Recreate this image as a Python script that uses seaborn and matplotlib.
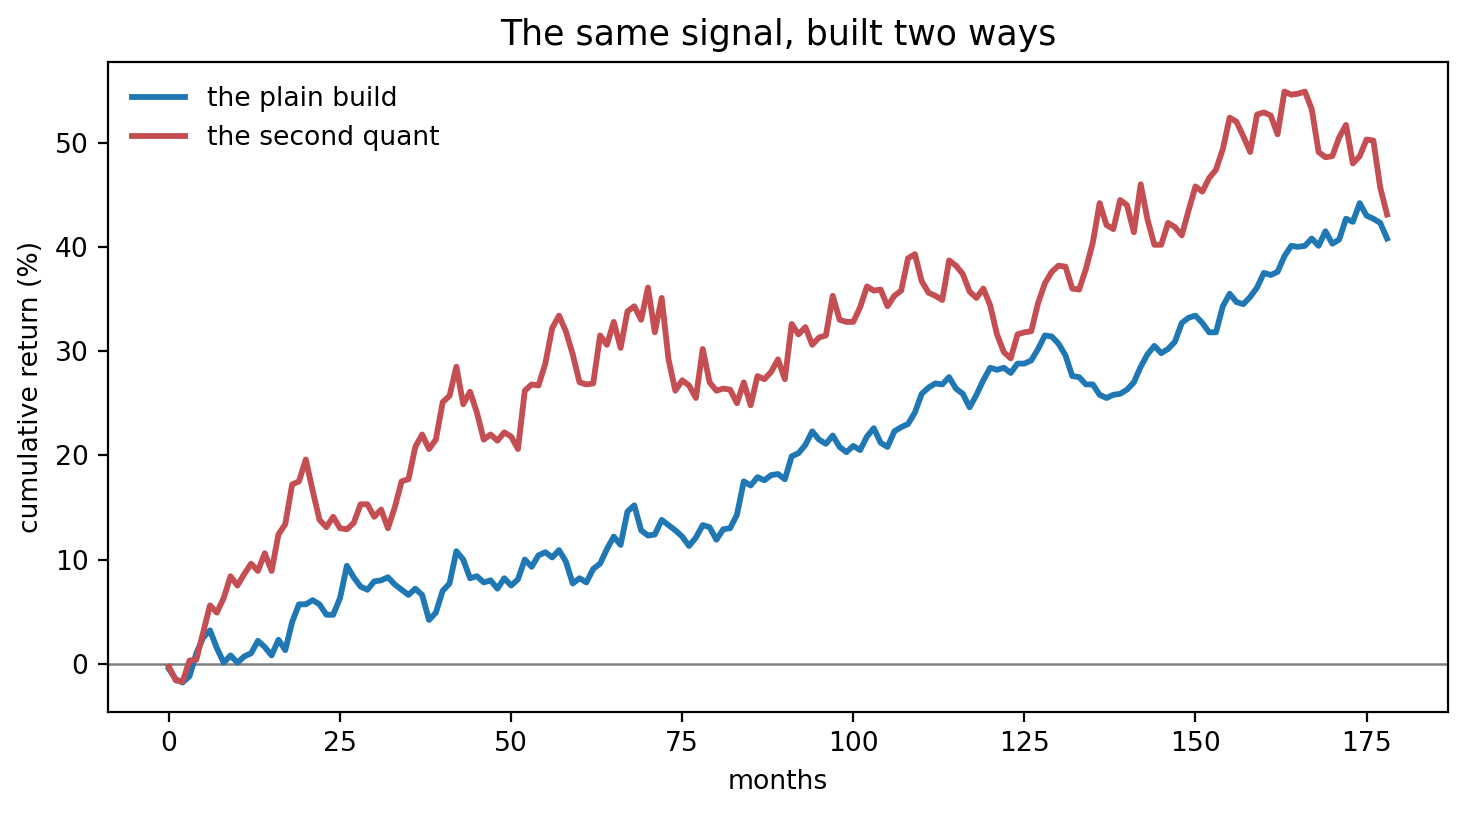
import numpy as np
import pandas as pd
import seaborn as sns
import matplotlib.pyplot as plt

# cumulative return (%), one value per month (0..178)
plain_build = [
    -0.5, -1.5, -1.8, -1.2, 1.0, 2.5, 3.2, 1.5, 0.1, 0.8,
    0.1, 0.7, 1.0, 2.2, 1.6, 0.8, 2.3, 1.3, 4.0, 5.7,
    5.7, 6.1, 5.7, 4.7, 4.7, 6.3, 9.4, 8.3, 7.4, 7.1,
    7.9, 8.0, 8.3, 7.6, 7.1, 6.6, 7.2, 6.6, 4.2, 4.9,
    7.0, 7.7, 10.8, 10.0, 8.2, 8.4, 7.8, 8.0, 7.2, 8.2,
    7.5, 8.1, 10.0, 9.3, 10.4, 10.7, 10.2, 10.9, 9.8, 7.7,
    8.2, 7.8, 9.1, 9.6, 11.0, 12.2, 11.4, 14.6, 15.2, 12.8,
    12.3, 12.4, 13.8, 13.3, 12.8, 12.2, 11.3, 12.1, 13.3, 13.1,
    11.9, 12.9, 13.0, 14.3, 17.5, 17.1, 17.9, 17.6, 18.1, 18.2,
    17.7, 19.9, 20.2, 21.0, 22.3, 21.5, 21.1, 21.9, 20.8, 20.3,
    20.9, 20.5, 21.8, 22.6, 21.2, 20.8, 22.3, 22.7, 23.0, 24.1,
    25.9, 26.5, 26.9, 26.8, 27.5, 26.4, 25.9, 24.6, 25.8, 27.2,
    28.4, 28.2, 28.4, 27.9, 28.8, 28.8, 29.1, 30.2, 31.5, 31.4,
    30.7, 29.6, 27.6, 27.5, 26.8, 26.8, 25.8, 25.5, 25.8, 25.9,
    26.3, 27.0, 28.5, 29.7, 30.5, 29.8, 30.2, 30.9, 32.7, 33.2,
    33.4, 32.7, 31.8, 31.8, 34.3, 35.5, 34.7, 34.5, 35.2, 36.1,
    37.5, 37.3, 37.6, 39.1, 40.1, 40.0, 40.1, 40.8, 40.1, 41.5,
    40.3, 40.7, 42.7, 42.4, 44.2, 43.0, 42.7, 42.3, 40.8,
]
second_quant = [
    -0.3, -1.6, -1.7, 0.3, 0.4, 3.0, 5.6, 4.9, 6.3, 8.4,
    7.5, 8.6, 9.6, 8.9, 10.6, 8.9, 12.4, 13.4, 17.2, 17.5,
    19.6, 16.6, 13.8, 13.1, 14.1, 13.0, 12.9, 13.5, 15.3, 15.3,
    14.1, 14.8, 13.0, 15.0, 17.5, 17.7, 20.8, 22.0, 20.6, 21.5,
    25.1, 25.7, 28.5, 24.9, 26.1, 24.1, 21.5, 22.0, 21.4, 22.2,
    21.8, 20.6, 26.2, 26.8, 26.7, 28.8, 32.2, 33.4, 31.9, 29.7,
    27.0, 26.8, 26.9, 31.5, 30.6, 32.8, 30.3, 33.8, 34.3, 33.0,
    36.1, 31.8, 35.1, 29.2, 26.2, 27.2, 26.7, 25.5, 30.2, 27.0,
    26.2, 26.4, 26.3, 25.0, 27.0, 24.8, 27.6, 27.3, 28.0, 29.2,
    27.3, 32.6, 31.6, 32.3, 30.6, 31.3, 31.5, 35.3, 33.0, 32.8,
    32.8, 34.2, 36.2, 35.8, 35.9, 34.3, 35.3, 35.8, 38.9, 39.3,
    36.7, 35.6, 35.3, 34.9, 38.7, 38.2, 37.4, 35.7, 35.1, 36.0,
    34.4, 31.6, 29.9, 29.3, 31.6, 31.8, 31.9, 34.6, 36.5, 37.6,
    38.2, 38.1, 36.0, 35.9, 37.9, 40.4, 44.2, 42.1, 41.7, 44.5,
    44.0, 41.4, 46.0, 42.6, 40.2, 40.2, 42.3, 41.9, 41.1, 43.5,
    45.8, 45.3, 46.6, 47.4, 49.4, 52.4, 52.0, 50.6, 49.1, 52.7,
    52.9, 52.6, 50.8, 54.9, 54.6, 54.7, 54.9, 53.2, 49.1, 48.6,
    48.7, 50.5, 51.7, 48.0, 48.7, 50.3, 50.2, 45.7, 43.1,
]
series_names = ['the plain build', 'the second quant']
series_colors = ['#1f77b4', '#c44e52']

months = np.arange(len(plain_build))
df = pd.DataFrame({
    'months': np.concatenate([months, months]),
    'ret': plain_build + second_quant,
    'series': [series_names[0]] * len(months) + [series_names[1]] * len(months),
})

plt.rcParams['font.size'] = 9.6

fig, ax = plt.subplots(figsize=(7.33, 4.065), dpi=200)
fig.subplots_adjust(left=0.0737, right=0.9877, top=0.9237, bottom=0.1242)

ax.axhline(0, color='grey', lw=0.9, zorder=1)
sns.lineplot(data=df, x='months', y='ret', hue='series',
             palette=dict(zip(series_names, series_colors)), lw=2.1, ax=ax)

ax.set_title('The same signal, built two ways', fontsize=12.5)
ax.set_xlabel('months')
ax.set_ylabel('cumulative return (%)')
ax.legend(frameon=False, loc='upper left')

plt.savefig('out.png', dpi=200)
